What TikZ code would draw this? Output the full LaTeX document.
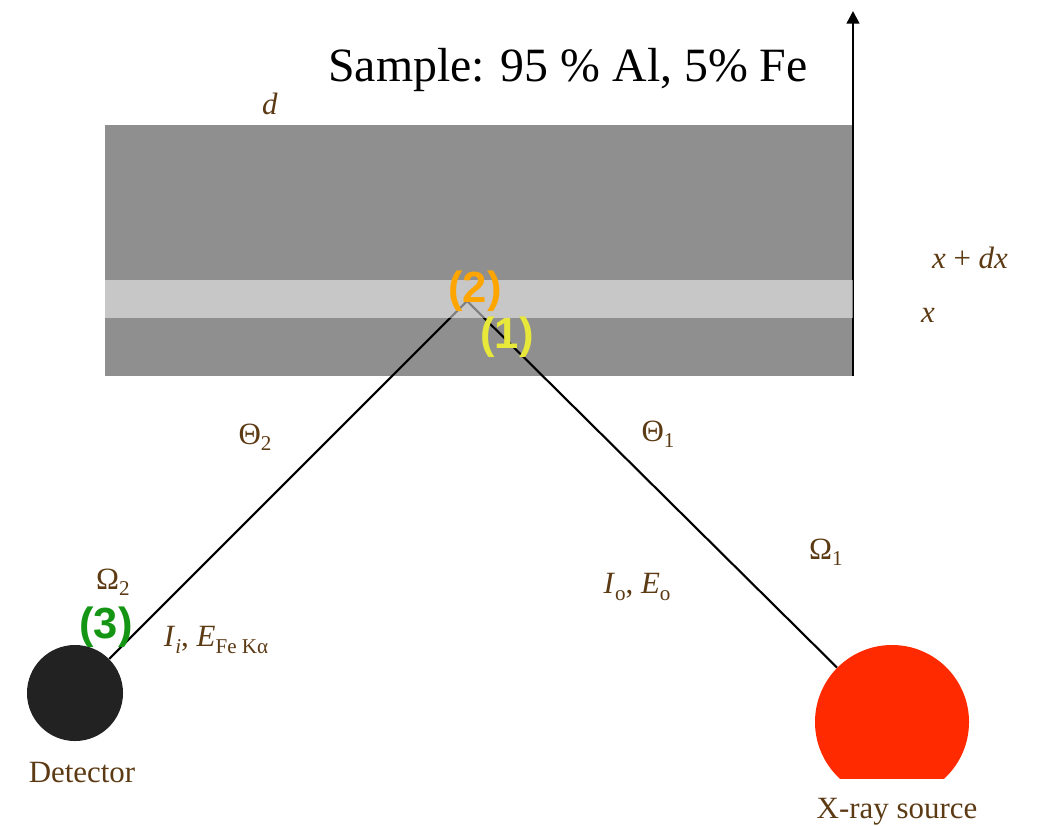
\documentclass[tikz,border=0pt]{standalone}
\usepackage{fontspec}
\setmainfont{Liberation Serif}
\setsansfont{Liberation Sans}
\usetikzlibrary{arrows.meta}
\definecolor{slabdark}{HTML}{8F8F8F}
\definecolor{lbl}{HTML}{5C3A14}
\definecolor{srcred}{HTML}{FF2A00}
\definecolor{detblack}{HTML}{222222}
\definecolor{stepone}{HTML}{E8E83A}
\definecolor{steptwo}{HTML}{FFA500}
\definecolor{stepthree}{HTML}{149614}
\newcommand{\lowsub}[1]{\raisebox{-0.45ex}{\fontsize{15}{16}\selectfont #1}}
\tikzset{ray/.style={line width=1.5pt, black},
  lbl/.style={text=lbl, font=\fontsize{22}{24}\selectfont, inner sep=0pt},
  stepno/.style={font=\sffamily\bfseries\fontsize{31}{33}\selectfont, inner sep=0pt}}

\begin{document}
\begin{tikzpicture}[x=0.025cm, y=-0.025cm]
  \useasboundingbox (0,0) rectangle (1037,825);
  % sample slab
  \fill[slabdark] (105,125) rectangle (853,376);
  \node[font=\fontsize{34}{36}\selectfont, inner sep=0pt] (title) at (568,70) {Sample: 95 \% Al, 5\% Fe};
  \node[lbl] (d) at (270,104) {\textit{d}};
  % depth axis
  \coordinate (ax0) at (853,376);
  \coordinate (ax1) at (853,11);
  \draw[line width=1.8pt, -{Triangle[width=9pt,length=9pt]}] (ax0) -- (ax1);
  \node[lbl] (xdx) at (970,258) {\textit{x} + \textit{dx}};
  \node[lbl] (x) at (928,315) {\textit{x}};
  % detector and source
  \node[circle, fill=detblack, minimum size=2.4cm, inner sep=0pt] (det) at (75,693) {};
  \node[lbl] (detlbl) at (82,773) {Detector};
  \node[circle, minimum size=3.85cm, inner sep=0pt] (src) at (892,722) {};
  \begin{scope}
    \clip (800,600) rectangle (1000,778);
    \fill[srcred] (src.center) circle (1.925cm);
  \end{scope}
  \node[lbl] (srclbl) at (897,812) {X-ray source};
  % beam paths
  \coordinate (apex) at (467,301);
  \draw[ray] (src) -- (apex);
  \draw[ray] (apex) -- (det);
  % layer dx
  \fill[white, opacity=0.5] (105,280) rectangle (853,318);
  % labels
  \node[lbl] (th2) at (255,437) {Θ\lowsub{2}};
  \node[lbl] (th1) at (658,434) {Θ\lowsub{1}};
  \node[lbl] (om1) at (826,552) {Ω\lowsub{1}};
  \node[lbl] (om2) at (113,582) {Ω\lowsub{2}};
  \node[lbl] (io) at (637,587) {\textit{I}\lowsub{o}, \textit{E}\lowsub{o}};
  \node[lbl] (ii) at (216,640) {\textit{I}\lowsub{\textit{i}}, \textit{E}\lowsub{Fe Kα}};
  \node[stepno, text=steptwo] (s2) at (475,291) {(2)};
  \node[stepno, text=stepone] (s1) at (507,337) {(1)};
  \node[stepno, text=stepthree] (s3) at (106,627) {(3)};
\end{tikzpicture}
\end{document}
